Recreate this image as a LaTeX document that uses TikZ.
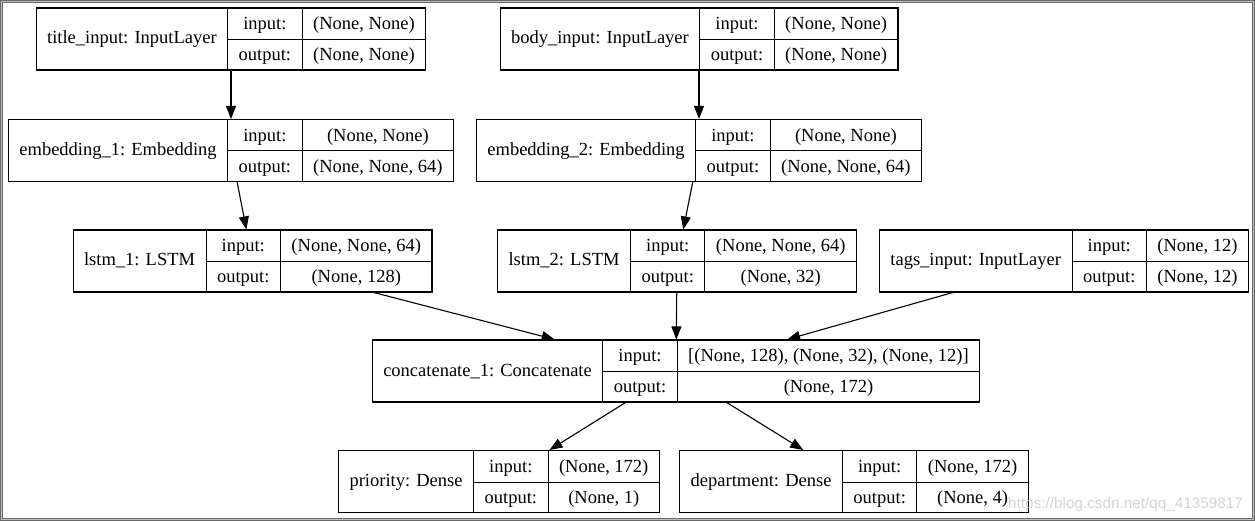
\documentclass[tikz,border=0pt]{standalone}
\usepackage{fontspec}
\setmainfont{Liberation Serif}
\newfontfamily\wmfont{Liberation Sans}
\usepackage{multirow}
\usetikzlibrary{arrows.meta}

\definecolor{framedark}{RGB}{105,105,105}
\definecolor{framelight}{RGB}{190,190,190}
\definecolor{wmgray}{RGB}{212,212,212}

\setlength{\tabcolsep}{11pt}
\setlength{\arrayrulewidth}{1pt}
\renewcommand{\arraystretch}{1.55}
\newcommand{\layerbox}[3]{\begin{tabular}{c|c|c}\multirow{2}{*}[-1pt]{#1} & input: & #2\\\cline{2-3} & output: & #3\end{tabular}}

\begin{document}
\begin{tikzpicture}[x=1pt,y=-1pt,
        layer/.style={draw,fill=white,line width=1.1pt,inner sep=0pt},
        arr/.style={line width=1.1pt,-{Triangle[length=13pt,width=10pt]}}
        ]
        \fontsize{18.5}{20}\selectfont
        \fill[framedark] (0,0) rectangle (1255,521);
        \fill[framelight] (1,1) rectangle (1254,520);
        \fill[framedark] (2,2) rectangle (1253,519);
        \fill[white] (3,3) rectangle (1252,518);
        \node (title) [layer] at (231,39)    {\layerbox{title\_input: InputLayer}{(None, None)}{(None, None)}};
        \node (body)  [layer] at (699,39)    {\layerbox{body\_input: InputLayer}{(None, None)}{(None, None)}};
        \node (emb1)  [layer] at (231,150.5) {\layerbox{embedding\_1: Embedding}{(None, None)}{(None, None, 64)}};
        \node (emb2)  [layer] at (699,150.5) {\layerbox{embedding\_2: Embedding}{(None, None)}{(None, None, 64)}};
        \node (lstm1) [layer] at (252.5,261) {\layerbox{lstm\_1: LSTM}{(None, None, 64)}{(None, 128)}};
        \node (lstm2) [layer] at (677,261)   {\layerbox{lstm\_2: LSTM}{(None, None, 64)}{(None, 32)}};
        \node (tags)  [layer] at (1064,261)  {\layerbox{tags\_input: InputLayer}{(None, 12)}{(None, 12)}};
        \node (concat) [layer] at (676,371)  {\layerbox{concatenate\_1: Concatenate}{[(None, 128), (None, 32), (None, 12)]}{(None, 172)}};
        \node (prio)  [layer] at (499,481.5) {\layerbox{priority: Dense}{(None, 172)}{(None, 1)}};
        \node (dept)  [layer] at (854,481.5) {\layerbox{department: Dense}{(None, 172)}{(None, 4)}};
        \draw[arr] (title) -- (emb1);
        \draw[arr] (body) -- (emb2);
        \draw[arr] (emb1) -- (lstm1);
        \draw[arr] (emb2) -- (lstm2);
        \draw[arr] (lstm1) -- (concat);
        \draw[arr] (lstm2) -- (concat);
        \draw[arr] (tags) -- (concat);
        \draw[arr] (concat) -- (prio);
        \draw[arr] (concat) -- (dept);
        \node (wm) [anchor=base west,text=wmgray,font=\wmfont\fontsize{15.3}{16}\selectfont,inner sep=0pt] at (1008,508) {https://blog.csdn.net/qq\_41359817};
\end{tikzpicture}
\end{document}
